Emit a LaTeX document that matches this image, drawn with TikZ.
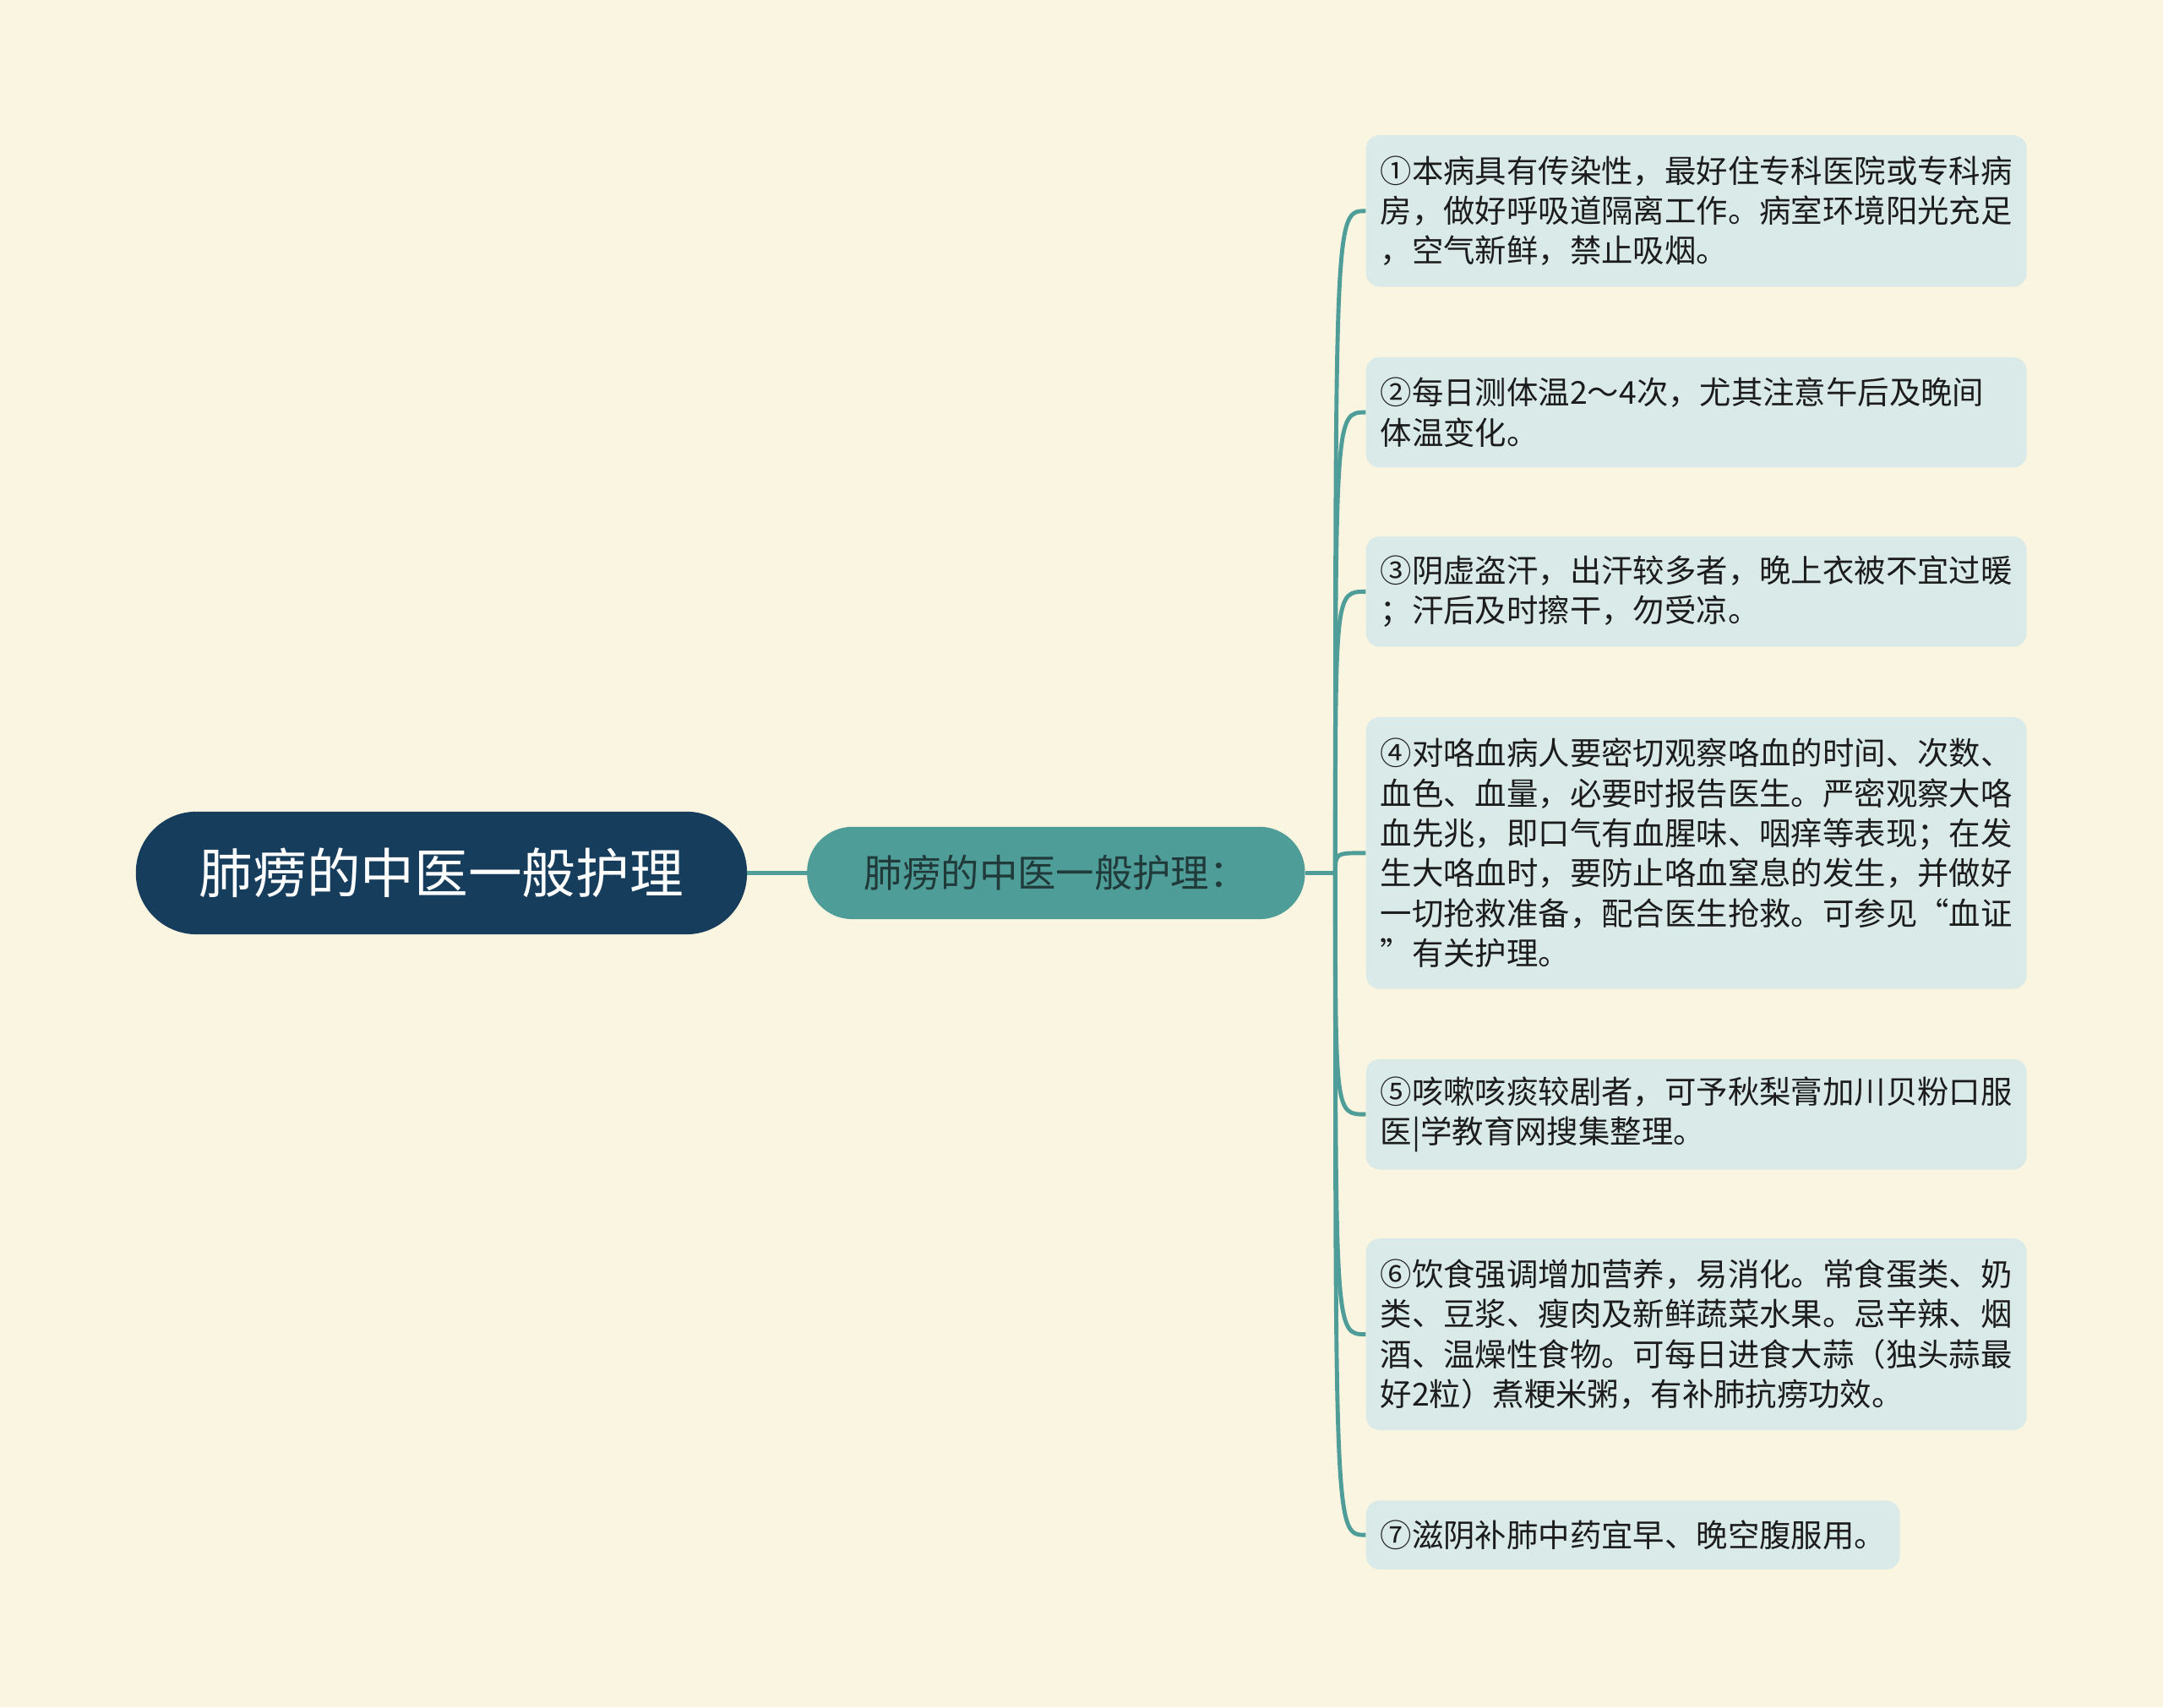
\documentclass[tikz,border=0pt]{standalone}
\usepackage{fontspec}
\setmainfont{Noto Sans CJK SC}
\usepackage{tikz}
\usetikzlibrary{calc}
\usepackage{xcolor}
\definecolor{bgcream}{RGB}{250,245,224}
\definecolor{rootblue}{RGB}{23,61,92}
\definecolor{midteal}{RGB}{79,157,153}
\definecolor{midtext}{RGB}{32,58,57}
\definecolor{leaffill}{RGB}{218,234,233}
\definecolor{leaftext}{RGB}{28,28,28}

\begin{document}
\begin{tikzpicture}[x=1pt,y=-1pt,link/.style={draw=midteal,line width=3}]
    \tikzstyle{root node}=[rectangle,rounded corners=44,fill=rootblue,text=white,minimum width=443,minimum height=89,font=\fontsize{39}{46}\selectfont]
    \tikzstyle{branch node}=[rectangle,rounded corners=33,fill=midteal,text=midtext,minimum width=361,minimum height=67,font=\fontsize{27.8}{33}\selectfont]
    \tikzstyle{leaf node}=[rectangle,rounded corners=10,fill=leaffill,text=leaftext,anchor=west,align=left,text width=458,inner xsep=10.5,inner ysep=0,font=\fontsize{22.9}{29}\selectfont]

    % canvas
    \fill[bgcream] (0,0) rectangle (1568,1238);
    \useasboundingbox (0,0) rectangle (1568,1238);

    \node(0)[root node] at (320,633) {肺痨的中医一般护理};
    \node(1)[branch node] at (765.5,633) {肺痨的中医一般护理：};
    \coordinate (h) at (968,633);

    \node(11)[leaf node,minimum height=110] at (990,153) {①本病具有传染性，最好住专科医院或专科病\\房，做好呼吸道隔离工作。病室环境阳光充足\\，空气新鲜，禁止吸烟。};
    \node(12)[leaf node,minimum height=80] at (990,299) {②每日测体温2～4次，尤其注意午后及晚间\\体温变化。};
    \node(13)[leaf node,minimum height=80] at (990,429) {③阴虚盗汗，出汗较多者，晚上衣被不宜过暖\\；汗后及时擦干，勿受凉。};
    \node(14)[leaf node,minimum height=197] at (990,618.5) {④对咯血病人要密切观察咯血的时间、次数、\\血色、血量，必要时报告医生。严密观察大咯\\血先兆，即口气有血腥味、咽痒等表现；在发\\生大咯血时，要防止咯血窒息的发生，并做好\\一切抢救准备，配合医生抢救。可参见“血证\\”有关护理。};
    \node(15)[leaf node,minimum height=80] at (990,808) {⑤咳嗽咳痰较剧者，可予秋梨膏加川贝粉口服\\医|学教育网搜集整理。};
    \node(16)[leaf node,minimum height=139] at (990,967.5) {⑥饮食强调增加营养，易消化。常食蛋类、奶\\类、豆浆、瘦肉及新鲜蔬菜水果。忌辛辣、烟\\酒、温燥性食物。可每日进食大蒜（独头蒜最\\好2粒）煮粳米粥，有补肺抗痨功效。};
    \node(17)[leaf node,minimum height=50,text width=366] at (990,1113) {⑦滋阴补肺中药宜早、晚空腹服用。};

    % main branch
    \draw[link] (0.east) -- (1.west);
    \draw[link] (1.east) -- (h);
    % curved links to the leaves
    \foreach \n in {11,12,13,14,15,16,17}
        \draw[link] (h) .. controls (h |- \n.west) .. (\n.west);
\end{tikzpicture}
\end{document}
